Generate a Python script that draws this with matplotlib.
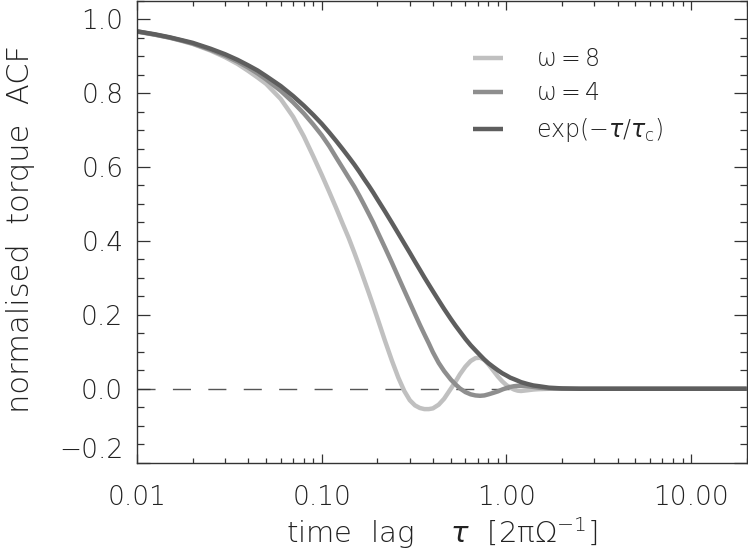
import numpy as np
import matplotlib
matplotlib.use('Agg')
import matplotlib.pyplot as plt
from matplotlib.ticker import FixedLocator, FuncFormatter, LogLocator, MultipleLocator

plt.rcParams['font.family'] = ['DejaVu Sans']
plt.rcParams['font.weight'] = 'light'
plt.rcParams['axes.labelweight'] = 'light'
plt.rcParams['mathtext.fontset'] = 'custom'
plt.rcParams['mathtext.rm'] = 'DejaVu Sans:light'
plt.rcParams['mathtext.it'] = 'DejaVu Sans:italic'
plt.rcParams['mathtext.bf'] = 'DejaVu Sans:bold'

# time lag grid (units of 2 pi / Omega)
tau = [0.01, 0.0125, 0.015, 0.0175, 0.02, 0.025, 0.03, 0.035, 0.04, 0.045,
       0.05, 0.06, 0.07, 0.08, 0.09, 0.10, 0.11, 0.12, 0.13, 0.14,
       0.15, 0.16, 0.17, 0.18, 0.19, 0.20, 0.22, 0.24, 0.26, 0.28,
       0.30, 0.32, 0.34, 0.36, 0.38, 0.40, 0.43, 0.46, 0.50, 0.53,
       0.56, 0.60, 0.64, 0.68, 0.72, 0.76, 0.80, 0.85, 0.90, 0.95,
       1.0, 1.05, 1.1, 1.15, 1.2, 1.3, 1.4, 1.5, 1.7, 2.0,
       2.5, 3.0, 5.0, 10.0, 20.0]

acf_w8 = [0.966, 0.958, 0.950, 0.941, 0.933, 0.915, 0.897, 0.879, 0.860, 0.842,
          0.825, 0.784, 0.736, 0.683, 0.629, 0.579, 0.532, 0.488, 0.446, 0.408,
          0.369, 0.331, 0.294, 0.259, 0.225, 0.192, 0.130, 0.076, 0.030, -0.006,
          -0.031, -0.045, -0.052, -0.055, -0.055, -0.053, -0.043, -0.027, 0.000, 0.019,
          0.039, 0.060, 0.075, 0.083, 0.084, 0.078, 0.066, 0.049, 0.033, 0.020,
          0.010, 0.003, -0.002, -0.005, -0.006, -0.004, -0.002, -0.001, 0.000, 0.000,
          0.000, 0.000, 0.000, 0.000, 0.000]

acf_w4 = [0.967, 0.958, 0.950, 0.942, 0.934, 0.917, 0.901, 0.885, 0.869, 0.853,
          0.837, 0.806, 0.775, 0.745, 0.715, 0.686, 0.656, 0.625, 0.597, 0.571,
          0.547, 0.522, 0.497, 0.473, 0.450, 0.426, 0.382, 0.341, 0.302, 0.266,
          0.233, 0.202, 0.173, 0.147, 0.123, 0.099, 0.070, 0.048, 0.025, 0.012,
          0.001, -0.009, -0.015, -0.018, -0.019, -0.018, -0.015, -0.011, -0.007, -0.002,
          0.002, 0.005, 0.007, 0.008, 0.008, 0.007, 0.005, 0.003, 0.001, 0.000,
          0.000, 0.000, 0.000, 0.000, 0.000]

acf_exp = [0.967, 0.959, 0.951, 0.943, 0.936, 0.920, 0.905, 0.890, 0.875, 0.861,
           0.846, 0.819, 0.792, 0.766, 0.741, 0.717, 0.693, 0.670, 0.648, 0.627,
           0.607, 0.587, 0.567, 0.549, 0.531, 0.513, 0.480, 0.449, 0.420, 0.393,
           0.368, 0.344, 0.322, 0.301, 0.282, 0.264, 0.239, 0.216, 0.189, 0.171,
           0.155, 0.135, 0.118, 0.104, 0.091, 0.079, 0.069, 0.059, 0.050, 0.042,
           0.036, 0.030, 0.026, 0.022, 0.018, 0.013, 0.009, 0.007, 0.003, 0.001,
           0.000, 0.000, 0.000, 0.000, 0.000]

labels = [r'$\mathrm{\omega}=8$', r'$\mathrm{\omega}=4$', r'$\exp(-\tau/\tau_{\rm c})$']
colors = ['#c0c0c0', '#8e8e8e', '#5e5e5e']

xticks = [0.01, 0.1, 1.0, 10.0]
yticks = [-0.2, 0.0, 0.2, 0.4, 0.6, 0.8, 1.0]

axcol = '#333333'
txtcol = '#222222'

fig = plt.figure(figsize=(7.48, 5.56), dpi=100)
ax = fig.add_axes([0.1832, 0.1678, 0.8150, 0.8310])

ax.axhline(0.0, color='#555555', lw=1.0, ls=(0, (13, 12.5)), zorder=1)
for y, lab, c in zip([acf_w8, acf_w4, acf_exp], labels, colors):
    ax.plot(tau, y, color=c, lw=3.2, label=lab, zorder=2,
            solid_joinstyle='round', solid_capstyle='butt')

ax.set_xscale('log')
ax.set_xlim(0.01, 20.0)
ax.set_ylim(-0.2, 1.05)

ax.xaxis.set_major_locator(FixedLocator(xticks))
ax.xaxis.set_major_formatter(FuncFormatter(lambda v, p: '%.2f' % v))
ax.xaxis.set_minor_locator(LogLocator(base=10, subs=np.arange(2, 10)))
ax.xaxis.set_minor_formatter(FuncFormatter(lambda v, p: ''))
ax.yaxis.set_major_locator(FixedLocator(yticks))
ax.yaxis.set_major_formatter(FuncFormatter(lambda v, p: ('%.1f' % v).replace('-', '\u2212')))
ax.yaxis.set_minor_locator(MultipleLocator(0.05))

ax.tick_params(which='both', direction='in', top=True, right=True,
               color=axcol, width=0.9, labelcolor=txtcol, labelsize=19)
ax.tick_params(axis='x', which='major', length=6.8, pad=16)
ax.tick_params(axis='x', which='minor', length=3.6)
ax.tick_params(axis='y', which='major', length=9.4, pad=10)
ax.tick_params(axis='y', which='minor', length=4.7)
for s in ax.spines.values():
    s.set_color(axcol)
    s.set_linewidth(1.0)

ax.set_xlabel(r'time  lag    $\tau$  [2$\mathrm{\pi\Omega}^{-1}$]', fontsize=21, color=txtcol, labelpad=4)
ax.set_ylabel('normalised  torque  ACF', fontsize=22, color=txtcol)
ax.yaxis.set_label_coords(-0.168, 0.507)

leg = ax.legend(loc='upper left', bbox_to_anchor=(0.5505, 0.9), frameon=False,
                fontsize=17, handlelength=1.3, handletextpad=1.4,
                labelspacing=0.45, borderpad=0, borderaxespad=0)
for t in leg.get_texts():
    t.set_color(txtcol)

fig.canvas.draw()
ax.get_yticklabels()[0].set_verticalalignment('bottom')

fig.savefig('out.png', dpi=100)
